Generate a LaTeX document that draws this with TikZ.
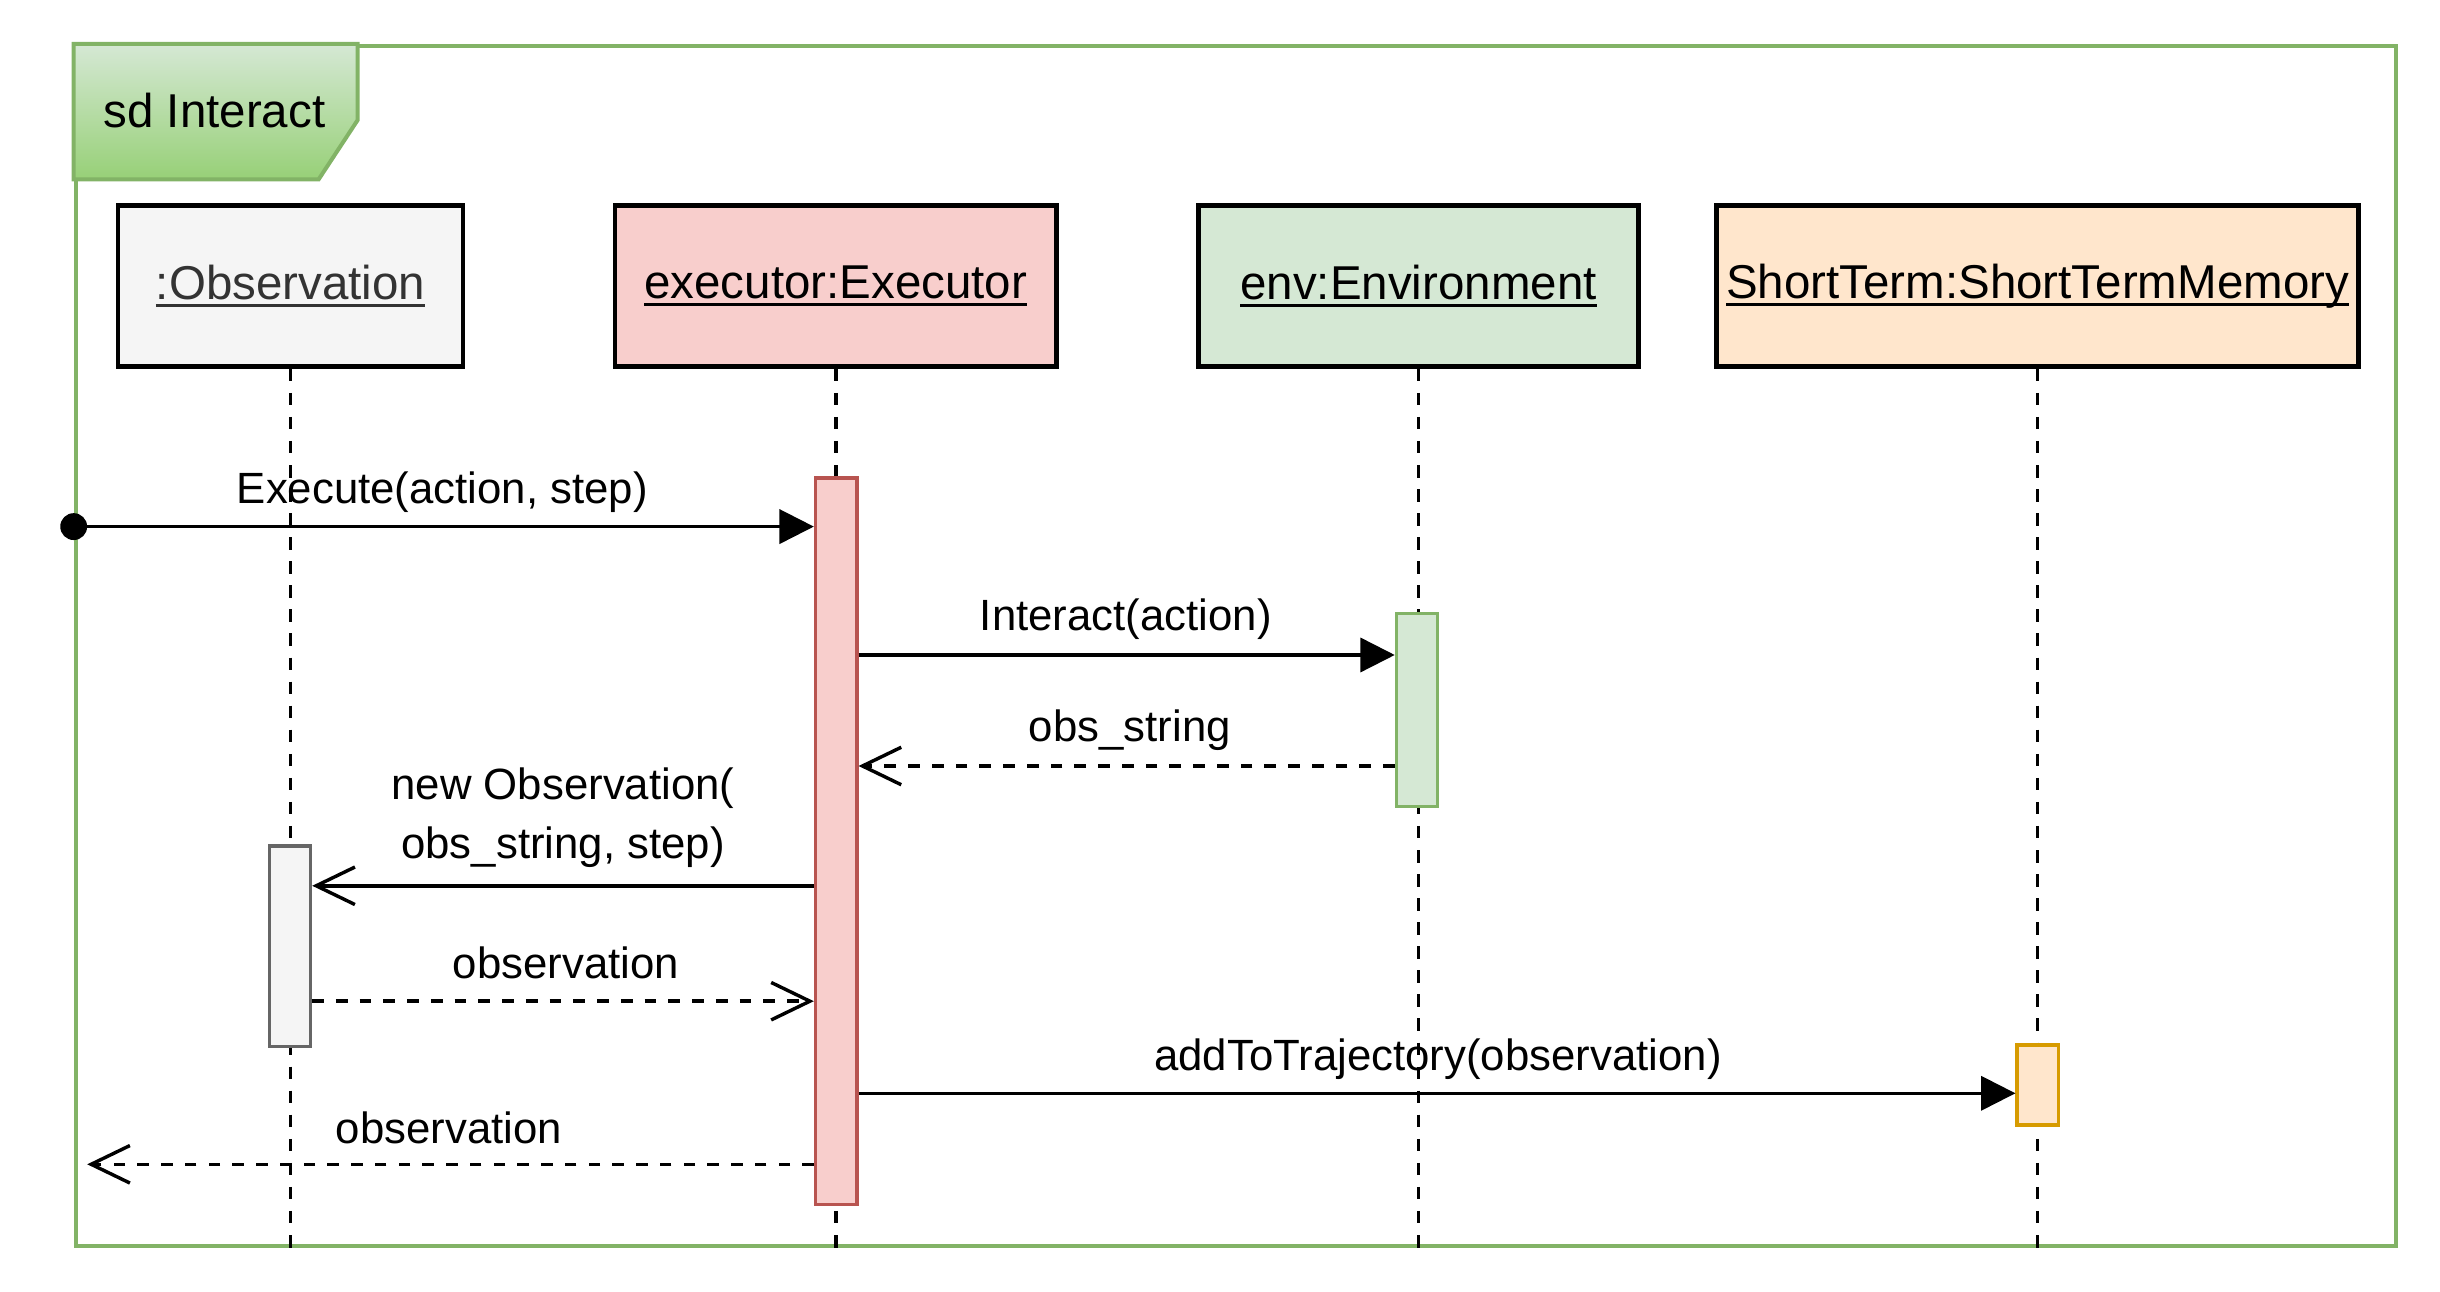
\documentclass[tikz,border=0pt]{standalone}
\usepackage{fontspec}
\setmainfont{Liberation Sans}
\usetikzlibrary{arrows.meta}
\newlength{\ulwidth}
\newcommand{\uln}[1]{\settowidth{\ulwidth}{#1}\rlap{\rule[-2.6pt]{\ulwidth}{1pt}}#1}
\definecolor{frameLine}{HTML}{82B366}
\definecolor{tabTop}{HTML}{D5E8D4}
\definecolor{tabBottom}{HTML}{97D077}
\definecolor{obsFill}{HTML}{F5F5F5}
\definecolor{obsLine}{HTML}{666666}
\definecolor{obsText}{HTML}{333333}
\definecolor{execFill}{HTML}{F8CECC}
\definecolor{execLine}{HTML}{B85450}
\definecolor{envFill}{HTML}{D5E8D4}
\definecolor{envLine}{HTML}{82B366}
\definecolor{stmFill}{HTML}{FFE6CC}
\definecolor{stmLine}{HTML}{D79B00}
\begin{document}
\begin{tikzpicture}[x=0.32pt, y=-0.32pt,
	head/.style={draw, line width=1.5pt, minimum height=51.5pt, inner sep=0, font=\fontsize{15.2}{18}\selectfont},
	bar/.style={draw, line width=1.1pt, minimum width=13.2pt, inner sep=0},
	lifeline/.style={line width=1.2pt, dash pattern=on 4pt off 3.7pt},
	call/.style={line width=1.1pt, -{Triangle[length=11pt, width=10.9pt]}},
	create/.style={line width=1.1pt, -{Straight Barb[length=12.4pt, width=12pt]}},
	reply/.style={create, dash pattern=on 3.7pt off 3.9pt},
	msg/.style={font=\fontsize{14}{18.85}\selectfont, anchor=base, inner sep=0}]
	\useasboundingbox (0,0) rectangle (2440,1292);
	\node[draw=frameLine, line width=1.28pt, minimum width=742.5pt, minimum height=383.9pt, anchor=north west, inner sep=0] (frame) at (73.7,44) {};
	\draw[draw=frameLine, line width=1.28pt, top color=tabTop, bottom color=tabBottom] (frame.north west) -- (357.7,44) -- (357.7,120) -- (318.7,179.3) -- (73.7,179.3) -- cycle;
	\node[font=\fontsize{15.2}{18}\selectfont, anchor=base, inner sep=0] (title) at (214.5,127.3) {sd Interact};

	\node[head, fill=obsFill, text=obsText, minimum width=110.4pt] (obs) at (290.5,286) {\uln{:Observation}};
	\node[head, fill=execFill, minimum width=141.4pt] (exec) at (835.8,286) {\uln{executor:Executor}};
	\node[head, fill=envFill, minimum width=140.8pt] (env) at (1418.5,286) {\uln{env:Environment}};
	\node[head, fill=stmFill, minimum width=205.4pt] (stm) at (2037.5,286) {\uln{ShortTerm:ShortTermMemory}};
	\foreach \h in {obs, exec, env, stm}
		\draw[lifeline] (\h.south) -- (\h.south |- frame.south);

	\node[bar, fill=execFill, draw=execLine, minimum height=232.4pt] (execBar) at (836.2,841.2) {};
	\node[bar, fill=envFill, draw=envLine, minimum height=61.9pt] (envBar) at (1417.1,710) {};
	\node[bar, fill=obsFill, draw=obsLine, minimum height=64.2pt] (obsBar) at (289.9,946.2) {};
	\node[bar, fill=stmFill, draw=stmLine, minimum height=25.6pt] (stmBar) at (2037.8,1085) {};

	\coordinate (found) at (frame.west |- 0,526.6);
	\coordinate (lost) at (87.2,1164.3);
	\fill (found) circle[radius=4.3pt];
	\draw[call] (found) -- (execBar.west |- 0,526.6);
	\draw[call] (execBar.east |- 0,655) -- (envBar.west |- 0,655);
	\draw[reply] (envBar.west |- 0,766) -- (execBar.east |- 0,766);
	\draw[create] (execBar.west |- 0,885.8) -- (obsBar.east |- 0,885.8);
	\draw[reply] (obsBar.east |- 0,1001.2) -- (execBar.west |- 0,1001.2);
	\draw[call] (execBar.east |- 0,1093.3) -- (stmBar.west |- 0,1093.3);
	\draw[reply] (execBar.west |- 0,1164.3) -- (lost);

	\node[msg] (lExecute) at (442.4,503.5) {Execute(action, step)};
	\node[msg] (lInteract) at (1125.8,631) {Interact(action)};
	\node[msg] (lObsString) at (1129.8,741.7) {obs\_string};
	\node[msg, align=center] (lNewObs) at (563,858.2) {new Observation(\\obs\_string, step)};
	\node[msg] (lObsBack) at (565.8,978.9) {observation};
	\node[msg] (lAddTo) at (1438,1070.7) {addToTrajectory(observation)};
	\node[msg] (lObsOut) at (449,1143.3) {observation};
\end{tikzpicture}
\end{document}
